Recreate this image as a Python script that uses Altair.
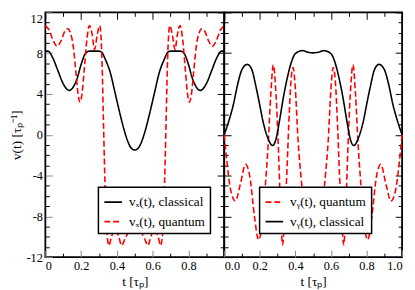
import altair as alt
import pandas as pd

# ---------------- data ----------------
t_vx_cl = [0, 0.015, 0.04, 0.07, 0.10, 0.134, 0.16, 0.18, 0.20, 0.225, 0.245, 0.30, 0.315,
           0.335, 0.363, 0.39, 0.418, 0.44, 0.46, 0.48, 0.50, 0.52, 0.54, 0.56, 0.582, 0.61,
           0.637, 0.665, 0.685, 0.70, 0.755, 0.775, 0.80, 0.82, 0.84, 0.866, 0.90, 0.93, 0.96,
           0.985, 1.0]
vx_cl = [8.2, 8.2, 7.6, 6.3, 5.0, 4.35, 4.8, 5.65, 6.9, 8.0, 8.2, 8.2, 8.1,
         7.4, 6.1, 4.1, 2.0, 0.5, -0.6, -1.3, -1.5, -1.3, -0.6, 0.5, 2.0, 4.1,
         6.1, 7.4, 8.1, 8.2, 8.2, 8.0, 6.9, 5.65, 4.8, 4.35, 5.0, 6.3, 7.6,
         8.2, 8.2]

t_vx_q = [0, 0.02, 0.045, 0.066, 0.09, 0.11, 0.125, 0.14, 0.155, 0.17, 0.183, 0.194, 0.205,
          0.218, 0.232, 0.247, 0.262, 0.275, 0.29, 0.304, 0.312, 0.318, 0.324, 0.330, 0.337,
          0.345, 0.356, 0.368, 0.39, 0.41, 0.427, 0.445, 0.47, 0.50, 0.53, 0.555, 0.573,
          0.59, 0.61, 0.632, 0.644, 0.655, 0.663, 0.670, 0.676, 0.682, 0.688, 0.696, 0.71,
          0.725, 0.738, 0.753, 0.768, 0.782, 0.795, 0.806, 0.817, 0.83, 0.845, 0.86, 0.875,
          0.89, 0.91, 0.934, 0.955, 0.98, 1.0]
vx_q = [10.7, 10.3, 9.2, 8.67, 9.3, 10.2, 10.4, 10.0, 8.8, 6.3, 4.0, 3.2, 4.0,
        6.5, 9.3, 10.7, 9.8, 8.35, 9.8, 10.7, 9.4, 6.5, 2.0, -2.5, -6.8,
        -9.8, -10.86, -10.1, -9.27, -10.0, -10.86, -10.2, -9.45, -9.27, -9.45, -10.2, -10.86,
        -10.0, -9.27, -10.1, -10.86, -9.8, -6.8, -2.5, 2.0, 6.5, 9.4, 10.7, 9.8,
        8.35, 9.8, 10.7, 9.3, 6.5, 4.0, 3.2, 4.0, 6.3, 8.8, 10.0, 10.4,
        10.2, 9.3, 8.67, 9.2, 10.3, 10.7]

t_vy_cl = [0, 0.025, 0.052, 0.075, 0.10, 0.13, 0.155, 0.18, 0.20, 0.217, 0.245, 0.272, 0.29,
           0.31, 0.335, 0.355, 0.372, 0.40, 0.44, 0.47, 0.50, 0.53, 0.56, 0.60, 0.628, 0.645,
           0.665, 0.69, 0.71, 0.728, 0.755, 0.783, 0.80, 0.82, 0.845, 0.87, 0.90, 0.925,
           0.948, 0.975, 1.0]
vy_cl = [0, 1.3, 3.0, 4.9, 6.4, 6.9, 6.4, 4.6, 2.9, 1.4, -0.3, -1.05, -0.5,
         1.3, 3.9, 5.6, 6.8, 7.95, 8.25, 8.1, 8.03, 8.1, 8.25, 7.95, 6.8, 5.6,
         3.9, 1.3, -0.5, -1.05, -0.3, 1.4, 2.9, 4.6, 6.4, 6.9, 6.4, 4.9,
         3.0, 1.3, 0]

t_vy_q = [0, 0.015, 0.035, 0.063, 0.09, 0.12, 0.145, 0.17, 0.193, 0.213, 0.232, 0.247, 0.262,
          0.276, 0.291, 0.305, 0.316, 0.328, 0.340, 0.352, 0.363, 0.375, 0.387, 0.40, 0.415,
          0.43, 0.445, 0.47, 0.50, 0.53, 0.555, 0.57, 0.585, 0.60, 0.613, 0.625, 0.637,
          0.648, 0.66, 0.672, 0.684, 0.695, 0.709, 0.724, 0.738, 0.753, 0.768, 0.787,
          0.807, 0.83, 0.855, 0.88, 0.91, 0.937, 0.965, 0.985, 1.0]
vy_q = [0, -2.6, -5.3, -6.5, -4.9, -2.9, -4.2, -8.0, -10.3, -8.8, -4.8, -1.0, 4.0,
        6.86, 4.0, -1.5, -7.0, -10.8, -8.0, -3.8, 1.0, 5.2, 6.6, 4.5, -0.5,
        -3.8, -6.3, -8.3, -8.8, -8.3, -6.3, -3.8, -0.5, 4.5, 6.6, 5.2, 1.0,
        -3.8, -8.0, -10.8, -7.0, -1.5, 4.0, 6.86, 4.0, -1.0, -4.8, -8.8,
        -10.3, -8.0, -4.2, -2.9, -4.9, -6.5, -5.3, -2.6, 0]

names_x = ["v\u2093(t), classical", "v\u2093(t), quantum"]
names_y = ["v\u1d67(t), quantum", "v\u1d67(t), classical"]

x_major = [0, 0.2, 0.4, 0.6, 0.8, 1.0]
x_minor = [0.1, 0.3, 0.5, 0.7, 0.9]
y_major = [-12, -8, -4, 0, 4, 8, 12]
y_minor = [-11, -10, -9, -7, -6, -5, -3, -2, -1, 1, 2, 3, 5, 6, 7, 9, 10, 11]

# ---------------- style ----------------
FONT = "Times New Roman, Liberation Serif, serif"
W_L, W_R, H = 182, 181, 249
MAJ, MIN = 7, 4

df_x = pd.concat([
    pd.DataFrame({"t": t_vx_cl, "v": vx_cl, "series": names_x[0]}),
    pd.DataFrame({"t": t_vx_q, "v": vx_q, "series": names_x[1]}),
])
df_y = pd.concat([
    pd.DataFrame({"t": t_vy_q, "v": vy_q, "series": names_y[0]}),
    pd.DataFrame({"t": t_vy_cl, "v": vy_cl, "series": names_y[1]}),
])

xscale = alt.Scale(domain=[0, 1], nice=False, zero=False)
yscale = alt.Scale(domain=[-12, 12], nice=False, zero=False)


def tick_axis(orient, values, size):
    return alt.Axis(orient=orient, values=values, tickSize=size, offset=-size,
                    domain=False, grid=False, labels=False, title=None,
                    tickColor="black", tickWidth=1)


def ghost(df, xaxis, yaxis):
    return alt.Chart(df).mark_point(opacity=0).encode(
        x=alt.X("t:Q", scale=xscale, axis=xaxis),
        y=alt.Y("v:Q", scale=yscale, axis=yaxis),
    )


def panel(df, names, colors, dashes, leg_x, width, left):
    legend = alt.Legend(
        title=None, orient="none", legendX=leg_x, legendY=178,
        fillColor="white", strokeColor="black", padding=5,
        symbolType="stroke", symbolSize=320, symbolStrokeWidth=1.8,
        labelFont=FONT, labelFontSize=13.5, labelColor="black", rowPadding=3,
        labelOffset=6,
    )
    if left:
        xlab = "datum.value > 0.95 ? '' : (datum.value == 0 ? '0' : format(datum.value, '.1f'))"
        yaxis = alt.Axis(orient="left", values=y_major, tickSize=MAJ, offset=-MAJ,
                         domain=False, grid=False, labelExpr="'' + datum.value",
                         labelBaseline={"condition": {"test": "datum.value == 12", "value": "top"},
                                        "value": "middle"},
                         labelPadding=3, title="v(t) [\u03c4\u209a\u207b\u00b9]", titlePadding=3)
    else:
        xlab = "format(datum.value, '.1f')"
        yaxis = tick_axis("left", y_major, MAJ)
    xaxis = alt.Axis(orient="bottom", values=x_major, tickSize=MAJ, offset=-MAJ,
                     domain=False, grid=False, labelExpr=xlab, labelPadding=3,
                     labelOverlap=False, title="t [\u03c4\u209a]", titlePadding=2)
    lines = alt.Chart(df).mark_line(strokeWidth=1.6, interpolate="monotone").encode(
        x=alt.X("t:Q", scale=xscale, axis=xaxis),
        y=alt.Y("v:Q", scale=yscale, axis=yaxis),
        color=alt.Color("series:N", scale=alt.Scale(domain=names, range=colors), legend=legend),
        strokeDash=alt.StrokeDash("series:N", scale=alt.Scale(domain=names, range=dashes), legend=legend),
    )
    layers = [
        ghost(df, tick_axis("bottom", x_minor, MIN), tick_axis("left", y_minor, MIN)),
        ghost(df, tick_axis("top", x_major, MAJ), tick_axis("right", y_major, MAJ)),
        ghost(df, tick_axis("top", x_minor, MIN), tick_axis("right", y_minor, MIN)),
        lines,
    ]
    return alt.layer(*layers).resolve_axis(x="independent", y="independent").properties(
        width=width, height=H)


left = panel(df_x, names_x, ["black", "#ff0000"], [[1, 0], [6, 3]], 54, W_L, True)
right = panel(df_y, names_y, ["#ff0000", "black"], [[6, 3], [1, 0]], 36, W_R, False)

chart = alt.hconcat(left, right, spacing=0, bounds="flush").resolve_scale(
    color="independent", strokeDash="independent"
).properties(
    padding={"left": 0, "top": 0, "right": 0, "bottom": 0}
).configure_view(
    stroke="black", strokeWidth=1.8
).configure_axis(
    labelFont=FONT, labelFontSize=12.5, labelColor="black",
    titleFont=FONT, titleFontSize=13.5, titleFontWeight="normal", titleColor="black",
).configure_legend(
    strokeWidth=1.5
)

chart.save("out.html", embed_options={"renderer": "svg", "actions": False})
